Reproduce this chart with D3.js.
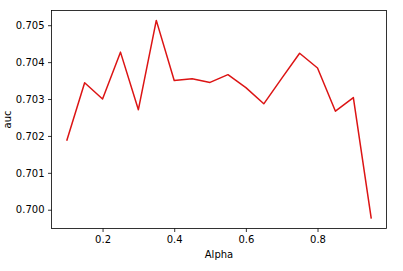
<!DOCTYPE html>
<html>
<head>
<meta charset="utf-8">
<script src="https://cdn.jsdelivr.net/npm/d3@7"></script>
<style>
  body { margin: 0; background: #fff; }
  svg { display: block; }
  text { font-family: "DejaVu Sans", sans-serif; }
</style>
</head>
<body>
<div id="chart"></div>
<script>
// alpha values and auc
const alpha = [0.10, 0.15, 0.20, 0.25, 0.30, 0.35, 0.40, 0.45, 0.50,
               0.55, 0.60, 0.65, 0.70, 0.75, 0.80, 0.85, 0.90, 0.95];
const auc = [0.70187, 0.70344, 0.70300, 0.70427, 0.70271, 0.70513, 0.70350, 0.70355, 0.70345,
             0.70366, 0.70331, 0.70287, 0.70356, 0.70424, 0.70384, 0.70267, 0.70304, 0.69976];
const xTicks = [0.2, 0.4, 0.6, 0.8];
const yTicks = [0.700, 0.701, 0.702, 0.703, 0.704, 0.705];

const W = 403, H = 271;
const m = { top: 10.5, right: 16.5, bottom: 42.5, left: 51.5 };

const svg = d3.select("#chart").append("svg")
  .attr("width", W)
  .attr("height", H);

// matplotlib style 5% padding on both axes
const xPad = (d3.max(alpha) - d3.min(alpha)) * 0.05;
const yPad = (d3.max(auc) - d3.min(auc)) * 0.05;

const x = d3.scaleLinear()
  .domain([d3.min(alpha) - xPad, d3.max(alpha) + xPad])
  .range([m.left, W - m.right]);
const y = d3.scaleLinear()
  .domain([d3.min(auc) - yPad, d3.max(auc) + yPad])
  .range([H - m.bottom, m.top]);

const line = d3.line()
  .x((d, i) => x(alpha[i]))
  .y(d => y(d));

svg.append("path")
  .datum(auc)
  .attr("fill", "none")
  .attr("stroke", "#dc1414")
  .attr("stroke-width", 1.5)
  .attr("stroke-linejoin", "round")
  .attr("d", line);

const xAxis = svg.append("g")
  .attr("transform", `translate(0,${H - m.bottom})`)
  .call(d3.axisBottom(x).tickValues(xTicks).tickFormat(d3.format(".1f")).tickSize(3.5).tickPadding(3.5));
const yAxis = svg.append("g")
  .attr("transform", `translate(${m.left},0)`)
  .call(d3.axisLeft(y).tickValues(yTicks).tickFormat(d3.format(".3f")).tickSize(3.5).tickPadding(3.5));

[xAxis, yAxis].forEach(g => {
  g.select(".domain").remove();
  g.selectAll("line").attr("stroke", "#000").attr("stroke-width", 0.8);
  g.selectAll("text").attr("font-size", 10).attr("fill", "#000")
    .style("font-family", "'DejaVu Sans', sans-serif");
});

// frame
svg.append("rect")
  .attr("x", m.left)
  .attr("y", m.top)
  .attr("width", W - m.left - m.right)
  .attr("height", H - m.top - m.bottom)
  .attr("fill", "none")
  .attr("stroke", "#000")
  .attr("stroke-width", 0.8);

svg.append("text")
  .attr("x", (m.left + W - m.right) / 2)
  .attr("y", 258)
  .attr("text-anchor", "middle")
  .attr("font-size", 10)
  .text("Alpha");

svg.append("text")
  .attr("transform", `translate(11,${(m.top + H - m.bottom) / 2}) rotate(-90)`)
  .attr("text-anchor", "middle")
  .attr("font-size", 10)
  .text("auc");
</script>
</body>
</html>
